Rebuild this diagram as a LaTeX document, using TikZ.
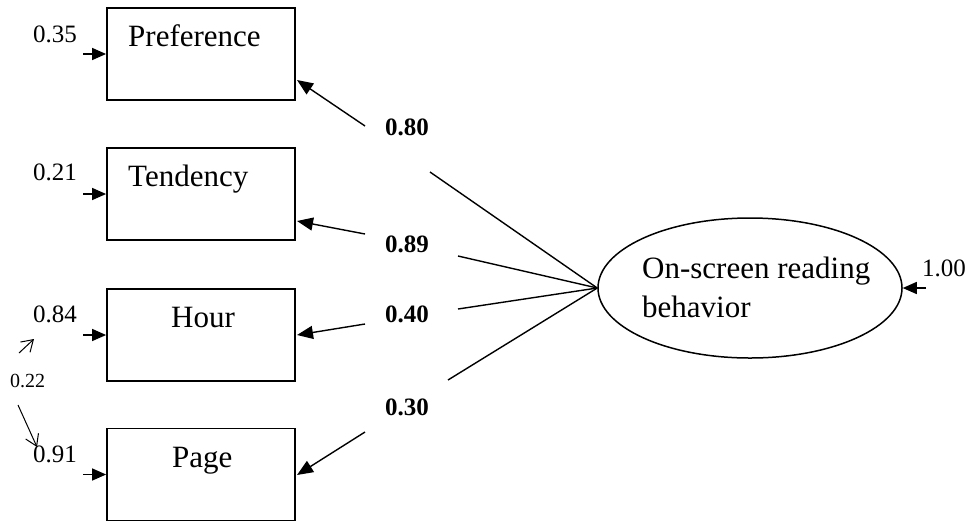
\documentclass[tikz,border=0pt]{standalone}
\usepackage{fontspec}
\setmainfont{Liberation Serif}
\usetikzlibrary{arrows.meta,shapes.geometric}
\begin{document}
\begin{tikzpicture}[x=1pt,y=-1pt,
  obsbox/.style={draw, line width=1.8pt, minimum width=188pt, minimum height=92pt, inner sep=0pt},
  latent/.style={ellipse, draw, line width=1.5pt, minimum width=304pt, minimum height=140pt, inner sep=0pt},
  boxtext/.style={anchor=base west, inner sep=0pt, font=\fontsize{31}{39}\selectfont},
  errlab/.style={anchor=base west, inner sep=0pt, font=\fontsize{25}{30}\selectfont},
  loadlab/.style={anchor=base west, inner sep=0pt, font=\fontsize{25}{30}\selectfont\bfseries},
  path/.style={line width=1.4pt},
  bigtip/.style={-{Triangle[length=16pt,width=13pt]}, line width=1.4pt},
  errtip/.style={-{Triangle[length=14pt,width=12pt]}, line width=1.4pt},
  covtip/.style={-{Straight Barb[length=11pt,width=14pt,line width=1pt]}, line width=1pt}]
\useasboundingbox (0,0) rectangle (973,523);

% observed indicators
\node[obsbox] (pref) at (201,54) {};
\node[obsbox] (tend) at (201,194) {};
\node[obsbox] (hour) at (201,335) {};
\node[obsbox] (page) at (201,474.5) {};

\node[boxtext] (preft) at (128,46) {Preference};
\node[boxtext] (tendt) at (128,186) {Tendency};
\node[boxtext] (hourt) at (171,327) {Hour};
\node[boxtext] (paget) at (172,467) {Page};

% latent factor
\node[latent] (osr) at (750,288) {};
\node[boxtext] (osrt1) at (642,278) {On-screen reading};
\node[boxtext] (osrt2) at (642,317) {behavior};

% error terms
\node[errlab] (e1) at (33,42) {0.35};
\node[errlab] (e2) at (33,180) {0.21};
\node[errlab] (e3) at (33,322) {0.84};
\node[errlab] (e4) at (33,462) {0.91};
\node[anchor=base west, inner sep=0pt, font=\fontsize{20}{24}\selectfont] (cov) at (10,387) {0.22};
\node[errlab] (e5) at (922,276) {1.00};

\coordinate (s1) at (83,54);
\coordinate (s2) at (83,194);
\coordinate (s3) at (83,335);
\coordinate (s4) at (83,474.5);
\coordinate (s5) at (926,288);
\draw[errtip] (s1) -- (pref.west);
\draw[errtip] (s2) -- (tend.west);
\draw[errtip] (s3) -- (hour.west);
\draw[errtip] (s4) -- (page.west);
\draw[errtip] (s5) -- (osr.east);

% error covariance
\coordinate (c1a) at (19,353);
\coordinate (c1b) at (34,339);
\coordinate (c2a) at (18,405);
\coordinate (c2b) at (37,447);
\draw[covtip] (c1a) -- (c1b);
\draw[covtip] (c2a) -- (c2b);

% loadings, each line broken around its label
\coordinate (p1) at (297,80);   \coordinate (q1) at (365,126); \coordinate (r1) at (430,172);
\coordinate (p2) at (297,221);  \coordinate (q2) at (365,234); \coordinate (r2) at (458,256);
\coordinate (p3) at (297,335);  \coordinate (q3) at (365,324); \coordinate (r3) at (458,309);
\coordinate (p4) at (297,475);  \coordinate (q4) at (365,432); \coordinate (r4) at (448,380);

\draw[bigtip] (q1) -- (p1);
\draw[bigtip] (q2) -- (p2);
\draw[bigtip] (q3) -- (p3);
\draw[bigtip] (q4) -- (p4);
\draw[path] (r1) -- (osr.west);
\draw[path] (r2) -- (osr.west);
\draw[path] (r3) -- (osr.west);
\draw[path] (r4) -- (osr.west);

\node[loadlab] (l1) at (385,135) {0.80};
\node[loadlab] (l2) at (385,252) {0.89};
\node[loadlab] (l3) at (385,322) {0.40};
\node[loadlab] (l4) at (385,415) {0.30};
\end{tikzpicture}
\end{document}
